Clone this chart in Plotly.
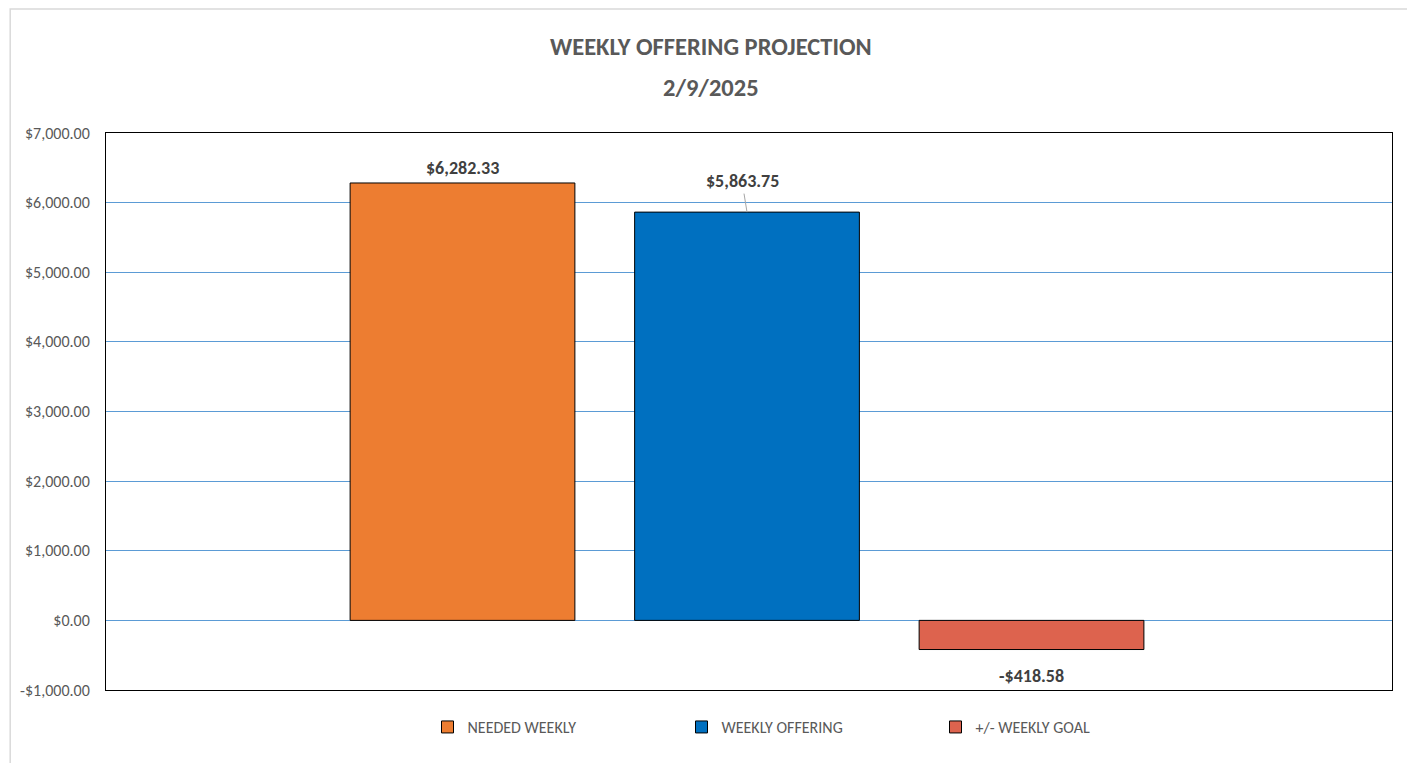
import plotly.graph_objects as go

series = ["NEEDED WEEKLY", "WEEKLY OFFERING", "+/- WEEKLY GOAL"]
values = [6282.33, 5863.75, -418.58]
colors = ["#ED7D31", "#0070C0", "#DD634E"]
tick_vals = [-1000, 0, 1000, 2000, 3000, 4000, 5000, 6000, 7000]
tick_text = ["-$1,000.00", "$0.00", "$1,000.00", "$2,000.00", "$3,000.00",
             "$4,000.00", "$5,000.00", "$6,000.00", "$7,000.00"]
title_lines = ["WEEKLY OFFERING PROJECTION", "2/9/2025"]

FONT = "Carlito, Liberation Sans Narrow, Roboto Condensed, Lato, sans-serif"

def money(v):
    s = "${:,.2f}".format(abs(v))
    return "-" + s if v < 0 else s

fig = go.Figure()
for i, (name, v, c) in enumerate(zip(series, values, colors)):
    fig.add_trace(go.Bar(
        x=[i], y=[v], name=name, width=0.79,
        marker=dict(color=c, line=dict(color="#000000", width=1)),
        hoverinfo="skip",
    ))

# data labels
label_shift = [15, None, -26]
for i, v in enumerate(values):
    if i == 1:
        fig.add_annotation(x=i, y=v, text="<b>" + money(v) + "</b>",
                           showarrow=True, arrowhead=0, arrowwidth=1,
                           arrowcolor="#A6A6A6", ax=-5, ay=-31, standoff=0,
                           font=dict(family=FONT, size=18, color="#404040"))
    else:
        fig.add_annotation(x=i, y=v, text="<b>" + money(v) + "</b>",
                           showarrow=False, yshift=label_shift[i],
                           font=dict(family=FONT, size=18, color="#404040"))

# title lines
for txt, yy in zip(title_lines, [1.1544, 1.0808]):
    fig.add_annotation(xref="paper", yref="paper", x=0.4705, y=yy,
                       text="<b>" + txt + "</b>", showarrow=False,
                       xanchor="center", yanchor="middle",
                       font=dict(family=FONT, size=24.5, color="#595959"))

# outer chart border
fig.add_shape(type="rect", xref="paper", yref="paper",
              x0=-0.0745, x1=1.014, y0=-0.2, y1=1.2226,
              line=dict(color="#D9D9D9", width=1.5), fillcolor="rgba(0,0,0,0)",
              layer="below")

fig.update_layout(
    width=1407, height=755,
    margin=dict(l=96, r=23, t=125, b=73),
    paper_bgcolor="white", plot_bgcolor="white",
    font=dict(family=FONT, color="#595959", size=16),
    showlegend=True,
    legend=dict(orientation="h", x=0.25, xanchor="left", y=-0.036,
                yanchor="top", entrywidth=209, entrywidthmode="pixels",
                itemwidth=30,
                font=dict(family=FONT, size=16, color="#595959"),
                itemclick=False, itemdoubleclick=False),
    xaxis=dict(range=[-1.253, 3.267], showticklabels=False, showgrid=False,
               zeroline=False, showline=True, mirror=True,
               linecolor="#000000", linewidth=1, fixedrange=True),
    yaxis=dict(range=[-1000, 7000], tickvals=tick_vals, ticktext=tick_text,
               showgrid=True, gridcolor="#5B9BD5", gridwidth=1,
               zeroline=True, zerolinecolor="#5B9BD5", zerolinewidth=1,
               showline=True, mirror=True, linecolor="#000000", linewidth=1,
               ticks="", ticklabelstandoff=12,
               tickfont=dict(family=FONT, size=16, color="#595959"),
               fixedrange=True),
)

fig.write_html("out.html")
